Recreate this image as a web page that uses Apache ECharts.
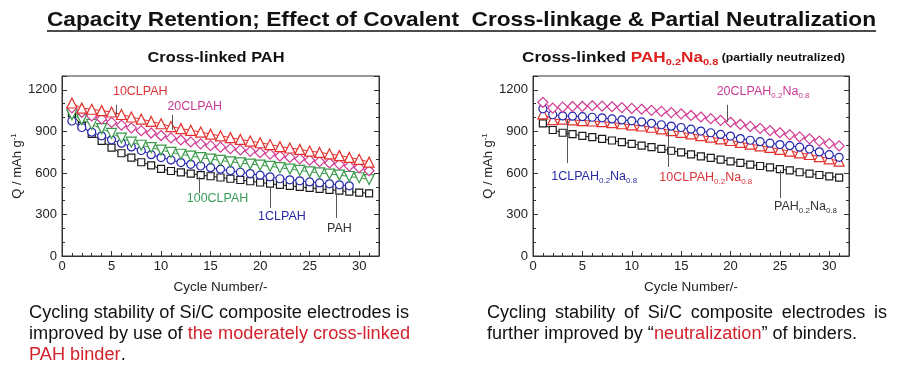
<!DOCTYPE html>
<html><head><meta charset="utf-8">
<script src="https://cdn.jsdelivr.net/npm/echarts@6/dist/echarts.min.js"></script>
<style>html,body{margin:0;padding:0;background:#fff}#c{width:907px;height:373px}</style>
</head><body><div id="c"></div>
<script>
// ---------- data ----------
const cycles = [1,2,3,4,5,6,7,8,9,10,11,12,13,14,15,16,17,18,19,20,21,22,23,24,25,26,27,28,29,30,31];
const xTicks = [0,5,10,15,20,25,30];
const yTicks = [0,300,600,900,1200];

// left panel: Cross-linked PAH
const pahL      = [1030,940,882,831,783,742,711,677,655,629,614,604,595,584,576,567,558,549,540,531,522,514,506,499,492,485,478,472,465,458,452];
const clpah1L   = [975,928,894,868,839,815,788,762,732,711,694,675,662,650,638,627,616,605,595,584,572,558,550,543,535,528,521,514,507];
const clpah100L = [1020,985,950,920,885,852,822,800,783,765,748,735,722,710,700,690,680,672,664,656,648,638,628,618,608,600,592,584,574,565,552];
const clpah20L  = [1070,1038,1012,990,965,945,925,905,888,870,853,838,824,810,797,786,776,766,756,746,736,722,712,702,692,682,672,662,650,638,616];
const clpah10L  = [1105,1068,1060,1050,1040,1022,1004,988,972,955,935,920,908,895,880,868,855,842,830,818,805,790,780,770,758,748,738,725,712,698,678];

// right panel: Cross-linked PAH0.2Na0.8
const pahR      = [958,910,890,880,868,858,846,834,822,810,797,786,774,760,748,734,720,708,696,684,672,660,650,640,628,618,605,595,585,575,566];
const clpah1R   = [1063,1020,1012,1010,1006,1002,998,990,983,976,968,958,948,938,928,916,902,890,878,866,848,836,826,815,805,797,786,772,752,732,713];
const clpah10R  = [1027,985,988,983,978,975,970,963,955,947,939,930,918,906,893,882,870,858,846,834,820,808,796,784,770,758,745,733,718,702,685];
const clpah20R  = [1110,1068,1075,1080,1080,1085,1082,1078,1072,1066,1060,1052,1044,1036,1027,1015,1004,992,980,966,950,936,922,906,890,875,860,846,830,812,795];

// annotations: [labelKey, lineX, lineYTop, lineYBottom, textX, textY]
const annLeft = [
  ['10CLPAH', 5.5, 1092, 1019, 7.9, 1186],
  ['20CLPAH', 11.1, 1019, 911, 13.4, 1077],
  ['100CLPAH', 13.9, 571, 455, 15.7, 412],
  ['1CLPAH', 21.05, 499, 347, 22.2, 282],
  ['PAH', 27.7, 455, 275, 28.0, 195]
];
const annRight = [
  ['20CLPAH', 19.65, 1092, 969, 23.3, 1186],
  ['1CLPAH', 3.44, 983, 672, 6.2, 571],
  ['10CLPAH', 13.65, 911, 643, 17.5, 564],
  ['PAH', 25.08, 622, 419, 27.6, 354]
];

// ---------- styling ----------
const FONT = "'Liberation Sans', Arial, sans-serif";
const C = { red: '#e3302c', mag: '#d23a94', green: '#3a9a4a', blue: '#2626b0', black: '#1a1a1a' };
const TXT = { '10CLPAH': '#d8343a', '20CLPAH': '#c93a94', '100CLPAH': '#3a9c5c', '1CLPAH': '#2a2aa8', 'PAH': '#333' };
const SIZES = { rect: 7, circle: 8, triangle: 10, diamond: 10 };

function zip(vals){ return vals.map((v,i)=>[cycles[i], v]); }

function mkSeries(name, vals, grid, color, symbol, rot){
  return {
    name, type:'line', xAxisIndex: grid, yAxisIndex: grid*2,
    data: zip(vals), symbol, symbolSize: SIZES[symbol], symbolRotate: rot||0,
    itemStyle:{color:'#fff', borderColor: color, borderWidth: 1.2},
    lineStyle:{color, width: 1}, animation:false, z: 3
  };
}

function annSeries(list, grid, neutral){
  const lines = list.map(a => [{coord:[a[1], a[2]]},{coord:[a[1], a[3]]}]);
  const pts = list.map(a => {
    const key = a[0];
    const col = TXT[key];
    const txt = neutral ? '{m|' + key + '}{s|0.2}{m|Na}{s|0.8}' : '{m|' + key + '}';
    return {coord:[a[4], a[5]], label:{formatter: txt, rich:{
      m:{fontSize:12.5, fontFamily:FONT, color:col, lineHeight:16},
      s:{fontSize:8, fontFamily:FONT, color:col, lineHeight:9, verticalAlign:'bottom'}
    }}};
  });
  return {
    type:'line', xAxisIndex:grid, yAxisIndex:grid*2, data:[], silent:true, animation:false,
    markLine:{symbol:['none','none'], silent:true, animation:false, label:{show:false},
      lineStyle:{color:'#555', width:1, type:'solid'}, data: lines},
    markPoint:{symbol:'circle', symbolSize:1, silent:true, animation:false,
      itemStyle:{color:'rgba(0,0,0,0)'}, label:{show:true, position:'inside'}, data: pts}
  };
}

function xAxis(grid){
  return {gridIndex:grid, type:'value', min:0, max:32, interval:5,
    axisLine:{show:true, lineStyle:{color:'#333', width:1}},
    axisTick:{show:true, inside:true, length:5, lineStyle:{color:'#333'}},
    minorTick:{show:true, splitNumber:5, length:3, lineStyle:{color:'#333'}},
    splitLine:{show:false},
    axisLabel:{showMaxLabel:false, fontSize:13, color:'#222', fontFamily:FONT, margin:4,
      formatter: v => xTicks.includes(v) ? String(v) : ''},
    name:'Cycle Number/-', nameLocation:'middle', nameGap:24,
    nameTextStyle:{fontSize:13.5, color:'#222', fontFamily:FONT}
  };
}
function yAxes(grid){
  return [{gridIndex:grid, type:'value', min:0, max:1300, interval:300, position:'left',
    axisLine:{show:true, lineStyle:{color:'#333'}},
    axisTick:{show:true, inside:true, length:5, lineStyle:{color:'#333'}},
    minorTick:{show:true, splitNumber:3, length:3, lineStyle:{color:'#333'}},
    splitLine:{show:false},
    axisLabel:{showMaxLabel:false, fontSize:13, color:'#222', fontFamily:FONT, margin:5,
      formatter: v => yTicks.includes(v) ? String(v) : ''},
    name:'{a|Q / mAh g}{b|-1}', nameLocation:'middle', nameGap:36,
    nameTextStyle:{rich:{
      a:{fontSize:13, color:'#222', fontFamily:FONT, lineHeight:16},
      b:{fontSize:8, color:'#222', fontFamily:FONT, lineHeight:8, verticalAlign:'top'}
    }}
  },{gridIndex:grid, type:'value', min:0, max:1300, interval:300, position:'right',
    axisLine:{show:true, lineStyle:{color:'#333'}},
    axisTick:{show:true, inside:true, length:5, lineStyle:{color:'#333'}},
    minorTick:{show:true, splitNumber:3, length:3, lineStyle:{color:'#333'}},
    splitLine:{show:false}, axisLabel:{show:false}
  }];
}

// ---------- text helpers ----------
const cv = document.createElement('canvas').getContext('2d');
function mw(str, font){ cv.font = font; return cv.measureText(str).width; }

const chart = echarts.init(document.getElementById('c'), null, {renderer:'canvas'});

const titleStr = 'Capacity Retention; Effect of Covalent  Cross-linkage & Partial Neutralization';
const titleFont = 'bold 21px ' + FONT;
const titleScale = 829 / mw(titleStr, titleFont);

const sub1Str = 'Cross-linked PAH';
const sub1Font = 'bold 14px ' + FONT;
const sub1Scale = 137 / mw(sub1Str, sub1Font);

const sub2W = mw('Cross-linked PAH', 'bold 14px ' + FONT) + mw('Na', 'bold 14px ' + FONT)
  + mw('0.2', 'bold 9px ' + FONT) + mw('0.8', 'bold 9px ' + FONT) + mw(' (partially neutralized)', 'bold 10px ' + FONT);
const sub2Scale = 323 / sub2W;

const bodyFont = '18px ' + FONT;
const lL1 = 'Cycling stability of Si/C composite electrodes is';
const leftScale = 380 / mw(lL1, bodyFont);
const rL1 = 'Cycling stability of Si/C composite electrodes is';
const rL2 = 'further improved by \u201cneutralization\u201d of binders.';
const rScale = 370 / mw(rL2, bodyFont);
const RED = '#d3212b';

const richBody = {
  k:{fontSize:18, fontFamily:FONT, fill:'#111'},
  r:{fontSize:18, fontFamily:FONT, fill:RED}
};

const graphics = [
  {type:'text', x:461.5, y:20, scaleX:titleScale, style:{text:titleStr, font:titleFont, fill:'#111', align:'center', verticalAlign:'middle'}},
  {type:'line', shape:{x1:47, y1:31, x2:876, y2:31}, style:{stroke:'#111', lineWidth:1.6}},
  {type:'text', x:216, y:58, scaleX:sub1Scale, style:{text:sub1Str, font:sub1Font, fill:'#111', align:'center', verticalAlign:'middle'}},
  {type:'text', x:522, y:58, scaleX:sub2Scale, style:{
    text:'{k|Cross-linked }{r|PAH}{rs|0.2}{r|Na}{rs|0.8}{p| (partially neutralized)}',
    align:'left', verticalAlign:'middle',
    rich:{
      k:{fontSize:14, fontWeight:'bold', fontFamily:FONT, fill:'#111', lineHeight:18},
      r:{fontSize:14, fontWeight:'bold', fontFamily:FONT, fill:'#e0201e', lineHeight:18},
      rs:{fontSize:9, fontWeight:'bold', fontFamily:FONT, fill:'#e0201e', lineHeight:9, verticalAlign:'bottom'},
      p:{fontSize:10, fontWeight:'bold', fontFamily:FONT, fill:'#111', lineHeight:18}
    }}},
  {type:'text', x:29, y:313, scaleX:leftScale, style:{text:'{k|'+lL1+'}', rich:richBody, align:'left', verticalAlign:'middle'}},
  {type:'text', x:29, y:334, scaleX:leftScale, style:{text:'{k|improved by use of }{r|the moderately cross-linked}', rich:richBody, align:'left', verticalAlign:'middle'}},
  {type:'text', x:29, y:355, scaleX:leftScale, style:{text:'{r|PAH binder}{k|.}', rich:richBody, align:'left', verticalAlign:'middle'}},
  {type:'text', x:487, y:334, scaleX:rScale, style:{text:'{k|further improved by \u201c}{r|neutralization}{k|\u201d of binders.}', rich:richBody, align:'left', verticalAlign:'middle'}}
];
// justified first line on the right (487 → 887)
(function(){
  const words = rL1.split(' ');
  const ws = words.map(w => mw(w, bodyFont) * rScale);
  const total = ws.reduce((a,b)=>a+b,0);
  const gap = (400 - total) / (words.length - 1);
  let x = 487;
  words.forEach((w,i) => {
    graphics.push({type:'text', x:x, y:313, scaleX:rScale, style:{text:w, font:bodyFont, fill:'#111', align:'left', verticalAlign:'middle'}});
    x += ws[i] + gap;
  });
})();

chart.setOption({
  backgroundColor:'#fff',
  animation:false,
  grid:[
    {left:62, top:76, right:528, bottom:117, show:true, borderColor:'#333', borderWidth:1, backgroundColor:'rgba(0,0,0,0)'},
    {left:533, top:76, right:58, bottom:117, show:true, borderColor:'#333', borderWidth:1, backgroundColor:'rgba(0,0,0,0)'}
  ],
  xAxis:[xAxis(0), xAxis(1)],
  yAxis:[...yAxes(0), ...yAxes(1)],
  series:[
    mkSeries('PAH', pahL, 0, C.black, 'rect'),
    mkSeries('1CLPAH', clpah1L, 0, C.blue, 'circle'),
    mkSeries('100CLPAH', clpah100L, 0, C.green, 'triangle', 180),
    mkSeries('20CLPAH', clpah20L, 0, C.mag, 'diamond'),
    mkSeries('10CLPAH', clpah10L, 0, C.red, 'triangle'),
    mkSeries('PAH0.2Na0.8', pahR, 1, C.black, 'rect'),
    mkSeries('10CLPAH0.2Na0.8', clpah10R, 1, C.red, 'triangle'),
    mkSeries('1CLPAH0.2Na0.8', clpah1R, 1, C.blue, 'circle'),
    mkSeries('20CLPAH0.2Na0.8', clpah20R, 1, C.mag, 'diamond'),
    annSeries(annLeft, 0, false),
    annSeries(annRight, 1, true)
  ],
  graphic: graphics
});
</script></body></html>
